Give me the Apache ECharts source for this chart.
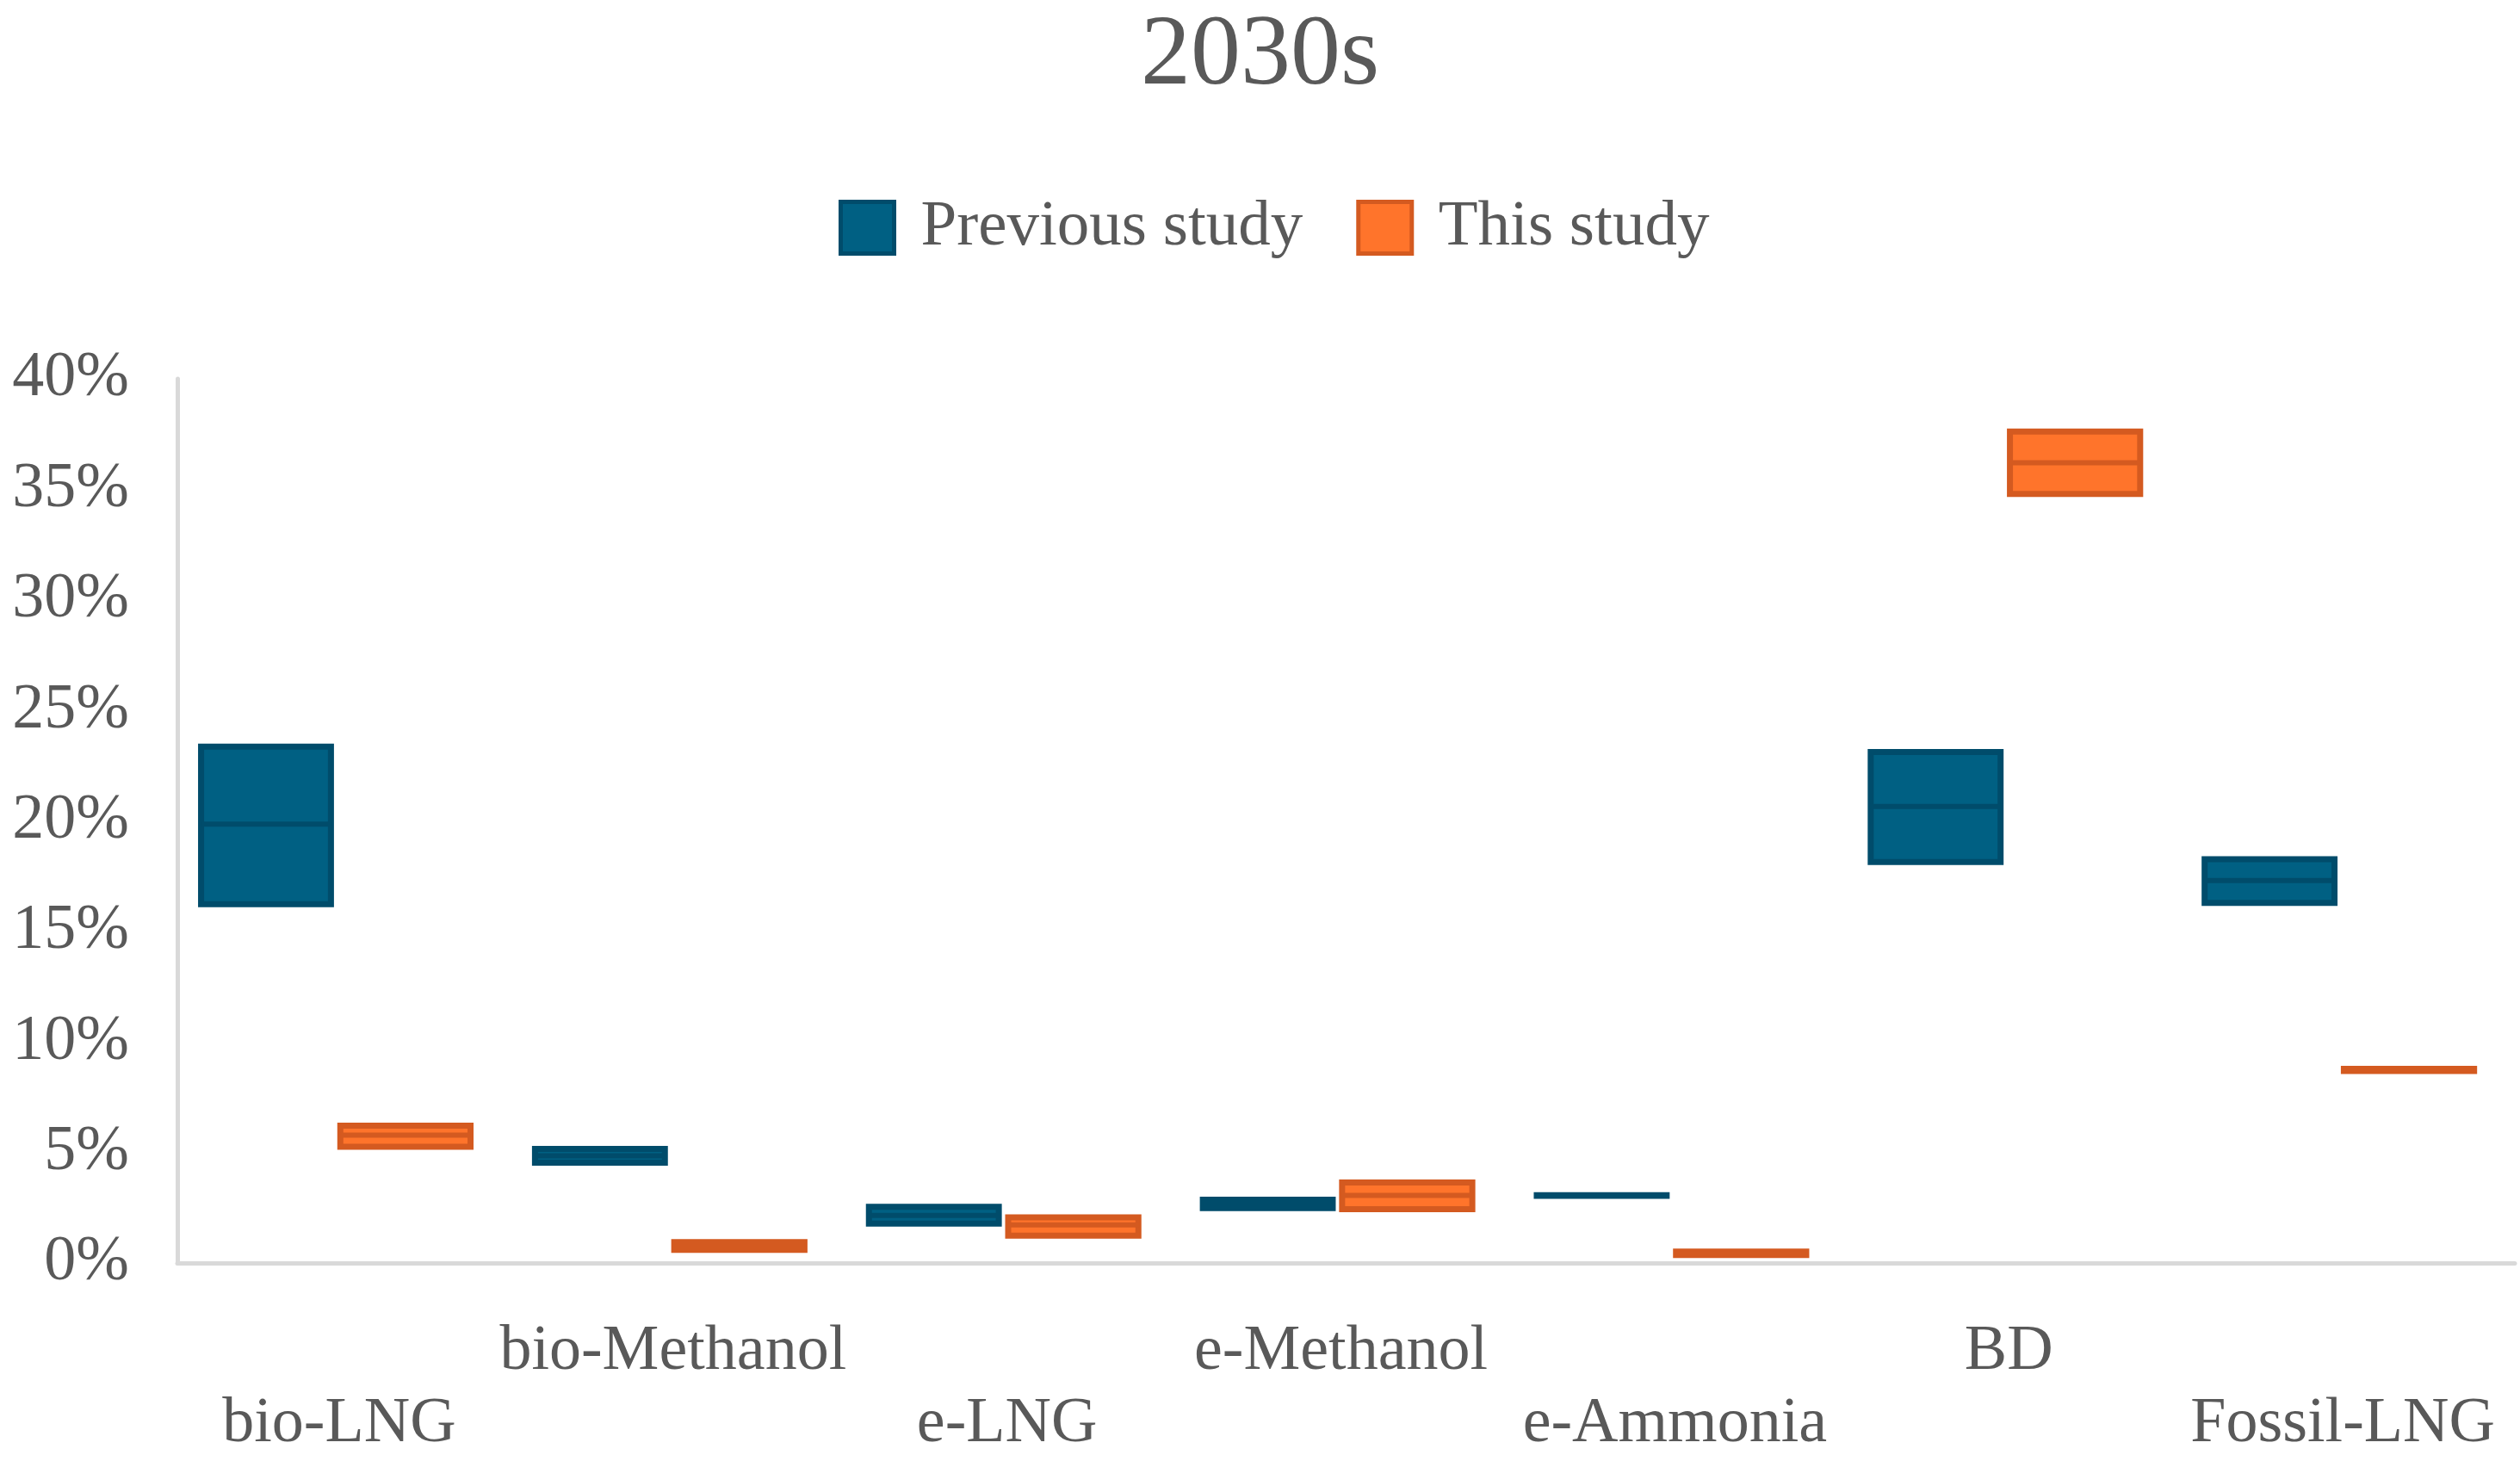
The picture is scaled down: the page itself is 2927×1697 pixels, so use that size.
<!DOCTYPE html>
<html>
<head>
<meta charset="utf-8">
<script src="https://cdn.jsdelivr.net/npm/echarts@6/dist/echarts.min.js"></script>
<style>html,body{margin:0;padding:0;background:#fff}#chart{width:2927px;height:1697px}</style>
</head>
<body>
<div id="chart"></div>
<script>
const categories = ['bio-LNG','bio-Methanol','e-LNG','e-Methanol','e-Ammonia','BD','Fossil-LNG'];
const yTicks = [0,5,10,15,20,25,30,35,40];
// Previous study: low / median / high (%)
const prevLow    = [16.1, 4.4, 1.65, 2.35, 2.9, 18.0, 16.15];
const prevMedian = [19.85, 4.85, 2.15, 2.65, 3.05, 20.65, 17.3];
const prevHigh   = [23.5, 5.3, 2.68, 3.0, 3.2, 23.25, 18.4];
// This study: low / median / high (%)
const thisLow    = [5.12, 0.46, 1.1, 2.3, 0.22, 34.65, 8.55];
const thisMedian = [5.78, 0.78, 1.72, 3.06, 0.43, 36.2, 8.75];
const thisHigh   = [6.35, 1.08, 2.2, 3.78, 0.65, 37.75, 8.92];

const FONT = "'Liberation Serif','Times New Roman',serif";
const TXT = '#595959';
const BLUE = '#006083', BLUE_D = '#004C6B';
const ORANGE = '#FF742B', ORANGE_D = '#D45A20';

function rows(lo, md, hi){ return categories.map((c,i)=>[i, lo[i], md[i], hi[i]]); }

function makeRender(offA, offB, fill, stroke){
  return function(params, api){
    const i = api.value(0);
    const pLo = api.coord([i, api.value(1)]);
    const pMd = api.coord([i, api.value(2)]);
    const pHi = api.coord([i, api.value(3)]);
    const bw = api.size([1, 0])[0];
    const x0 = pLo[0] + offA * bw, x1 = pLo[0] + offB * bw;
    const lw = 7;
    const h = pLo[1] - pHi[1];
    const inset = Math.min(lw / 2, h / 2);
    return {type:'group', children:[
      {type:'rect', shape:{x:x0 + lw/2, y:pHi[1] + inset, width:x1 - x0 - lw, height:Math.max(h - 2*inset, 0)},
        style:{fill:fill, stroke:stroke, lineWidth:Math.min(lw, Math.max(h, 1))}},
      {type:'line', shape:{x1:x0 + lw/2, y1:pMd[1], x2:x1 - lw/2, y2:pMd[1]}, style:{stroke:stroke, lineWidth:Math.min(lw - 1, Math.max(h/2, 1))}}
    ]};
  };
}

const chart = echarts.init(document.getElementById('chart'));
chart.setOption({
  backgroundColor:'#fff',
  animation:false,
  title:{text:'2030s', left:'center', top:0, textStyle:{fontFamily:FONT, fontSize:116, fontWeight:'normal', color:TXT, lineHeight:124}},
  legend:{
    left:969, top:222, itemWidth:62, itemHeight:60, itemGap:62,
    textStyle:{fontFamily:FONT, fontSize:75, color:TXT, padding:[0,0,0,26]},
    data:[
      {name:'Previous study', icon:'rect', itemStyle:{color:BLUE, borderColor:BLUE_D, borderWidth:5}},
      {name:'This study', icon:'rect', itemStyle:{color:ORANGE, borderColor:ORANGE_D, borderWidth:5}}
    ]
  },
  grid:{left:206, right:6, top:440, bottom:225, containLabel:false},
  xAxis:{
    type:'category', data:categories, boundaryGap:true,
    axisLine:{lineStyle:{color:'#D9D9D9', width:5}},
    axisTick:{show:false},
    axisLabel:{interval:0, fontFamily:FONT, fontSize:74, color:TXT, margin:62, lineHeight:84, padding:[0,12,0,0],
      formatter:function(v, i){ return i % 2 === 0 ? '\n' + v : v; }}
  },
  yAxis:{
    type:'value', min:0, max:40, interval:5,
    axisLine:{show:true, lineStyle:{color:'#D9D9D9', width:5}},
    axisTick:{show:false}, splitLine:{show:false},
    axisLabel:{fontFamily:FONT, fontSize:74, color:TXT, margin:56,
      formatter:function(v){ return yTicks.indexOf(v) >= 0 ? v + '%' : ''; }}
  },
  series:[
    {name:'Previous study', type:'custom', renderItem:makeRender(-0.438, -0.031, BLUE, BLUE_D),
      itemStyle:{color:BLUE, borderColor:BLUE_D}, encode:{x:0, y:[1,2,3]}, data:rows(prevLow, prevMedian, prevHigh)},
    {name:'This study', type:'custom', renderItem:makeRender(-0.021, 0.387, ORANGE, ORANGE_D),
      itemStyle:{color:ORANGE, borderColor:ORANGE_D}, encode:{x:0, y:[1,2,3]}, data:rows(thisLow, thisMedian, thisHigh)}
  ]
});
</script>
</body>
</html>
